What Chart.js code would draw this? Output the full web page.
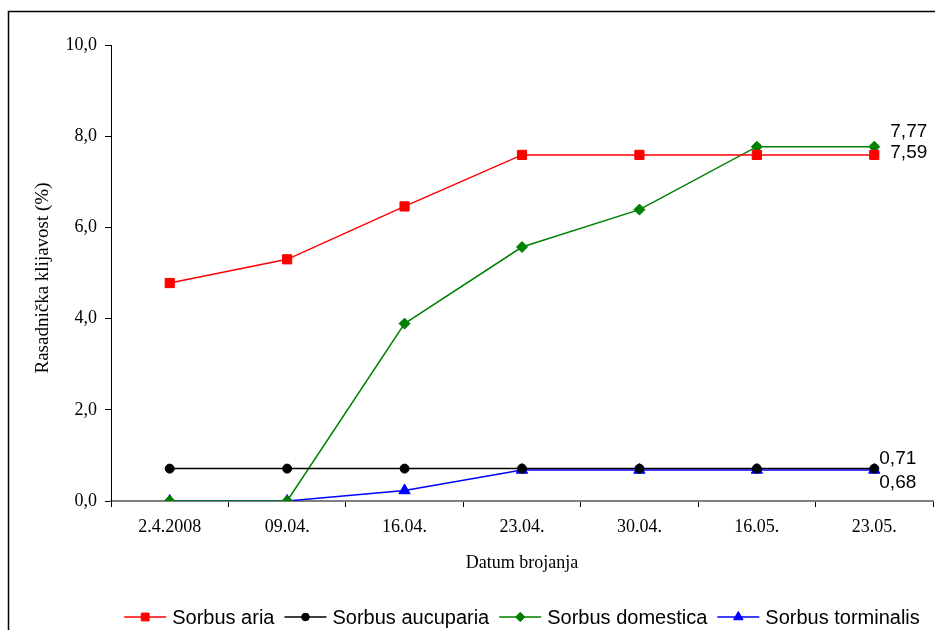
<!DOCTYPE html>
<html>
<head>
<meta charset="utf-8">
<script src="https://cdn.jsdelivr.net/npm/chart.js@4"></script>
<style>
  body { margin: 0; background: #fff; }
  #wrap { width: 935px; height: 630px; }
</style>
</head>
<body>
<div id="wrap"><canvas id="chart" width="935" height="630"></canvas></div>
<script>
const dates = ['2.4.2008', '09.04.', '16.04.', '23.04.', '30.04.', '16.05.', '23.05.'];
const seriesNames = ['Sorbus aria', 'Sorbus aucuparia', 'Sorbus domestica', 'Sorbus torminalis'];
const ariaValues = [4.78, 5.30, 6.46, 7.59, 7.59, 7.59, 7.59];
const aucupariaValues = [0.71, 0.71, 0.71, 0.71, 0.71, 0.71, 0.71];
const domesticaValues = [0, 0, 3.89, 5.57, 6.39, 7.77, 7.77];
const torminalisValues = [0, 0, 0.23, 0.68, 0.68, 0.68, 0.68];
const yTicks = [0, 2, 4, 6, 8, 10];

const colors = ['#ff0000', '#000000', '#008000', '#0000ff'];
const shapes = ['rect', 'circle', 'rectRot', 'triangle'];
const radii = [6.5, 4.5, 5.5, 6.5];
// offsets for the end-value labels
const endOffsets = [[16, -2], [5, -10], [16, -15], [5, 13]];

const fmt = v => v.toFixed(2).replace('.', ',');
const allValues = [ariaValues, aucupariaValues, domesticaValues, torminalisValues];

const serif = 'Liberation Serif';
const sans = 'Liberation Sans';

const extras = {
  id: 'extras',
  afterDraw(chart) {
    const ctx = chart.ctx;
    const area = chart.chartArea;
    ctx.save();
    // outer frame
    ctx.strokeStyle = '#000';
    ctx.lineWidth = 1.5;
    ctx.beginPath();
    ctx.moveTo(8.5, 640);
    ctx.lineTo(8.5, 11.5);
    ctx.lineTo(940, 11.5);
    ctx.stroke();

    // axis titles
    ctx.fillStyle = '#000';
    ctx.textAlign = 'center';
    ctx.textBaseline = 'middle';
    ctx.font = '18px "' + serif + '"';
    ctx.fillText('Datum brojanja', (area.left + area.right) / 2, 563);
    ctx.save();
    ctx.font = '19px "' + serif + '"';
    ctx.translate(43, 278);
    ctx.rotate(-Math.PI / 2);
    ctx.fillText('Rasadnička klijavost (%)', 0, 0);
    ctx.restore();

    // end value labels
    ctx.font = '19px "' + sans + '"';
    ctx.textAlign = 'left';
    chart.data.datasets.forEach((ds, i) => {
      const meta = chart.getDatasetMeta(i);
      const last = meta.data[meta.data.length - 1];
      ctx.fillText(fmt(ds.data[ds.data.length - 1]), last.x + endOffsets[i][0], last.y + endOffsets[i][1]);
    });

    // legend
    ctx.font = '20px "' + sans + '"';
    const lineLen = 42, gapText = 6, gapItem = 10;
    const widths = seriesNames.map(n => lineLen + gapText + ctx.measureText(n).width);
    const total = widths.reduce((a, b) => a + b, 0) + gapItem * (widths.length - 1);
    let x = (area.left + area.right) / 2 - total / 2;
    const ly = 617;
    seriesNames.forEach((n, i) => {
      ctx.strokeStyle = colors[i];
      ctx.fillStyle = colors[i];
      ctx.lineWidth = 1.5;
      ctx.beginPath();
      ctx.moveTo(x, ly);
      ctx.lineTo(x + lineLen, ly);
      ctx.stroke();
      ctx.lineWidth = 1;
      Chart.helpers.drawPoint(ctx, {
        pointStyle: shapes[i], radius: radii[i] * 0.85, rotation: 0, borderWidth: 1
      }, x + lineLen / 2, ly);
      ctx.fillStyle = '#000';
      ctx.fillText(n, x + lineLen + gapText, ly + 1);
      x += widths[i] + gapItem;
    });
    ctx.restore();
  }
};

new Chart(document.getElementById('chart'), {
  type: 'line',
  data: {
    labels: dates,
    datasets: seriesNames.map((name, i) => ({
      label: name,
      data: allValues[i],
      borderColor: colors[i],
      backgroundColor: colors[i],
      borderWidth: 1.5,
      pointStyle: shapes[i],
      pointRadius: radii[i],
      pointBorderWidth: 1,
      pointBorderColor: colors[i],
      tension: 0
    }))
  },
  options: {
    responsive: false,
    animation: false,
    events: [],
    layout: { autoPadding: false, padding: { top: 45, right: 2, left: 0, bottom: 0 } },
    plugins: {
      legend: { display: false },
      tooltip: { enabled: false }
    },
    scales: {
      x: {
        offset: true,
        grid: { display: true, offset: true, drawOnChartArea: false, tickLength: 6, color: '#000', tickWidth: 1 },
        border: { color: '#808080', width: 2 },
        ticks: { color: '#000', padding: 9, maxRotation: 0, font: { family: serif, size: 18 } },
        afterFit(s) { s.height = 129; s.paddingLeft = 0; s.paddingRight = 0; }
      },
      y: {
        min: 0,
        max: 10,
        afterBuildTicks(s) { s.ticks = yTicks.map(v => ({ value: v })); },
        grid: { display: true, drawOnChartArea: false, tickLength: 6, color: '#000' },
        border: { color: '#000', width: 1 },
        ticks: {
          color: '#000', padding: 8,
          font: { family: serif, size: 18 },
          callback: v => v.toFixed(1).replace('.', ',')
        },
        afterFit(s) { s.width = 111; s.paddingTop = 0; s.paddingBottom = 0; }
      }
    }
  },
  plugins: [extras]
});
</script>
</body>
</html>
